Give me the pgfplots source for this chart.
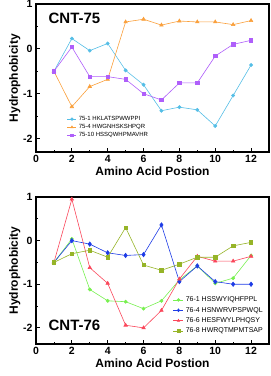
\documentclass[border=0pt]{standalone}
\usepackage{pgfplots}
\pgfplotsset{compat=1.18}
\usepackage{fontspec}
\setmainfont{Liberation Sans}
\definecolor{ccyan}{RGB}{85,190,230}
\definecolor{corange}{RGB}{250,160,60}
\definecolor{cpurple}{RGB}{175,95,250}
\definecolor{cgreen}{RGB}{120,240,80}
\definecolor{cblue}{RGB}{30,60,230}
\definecolor{cred}{RGB}{250,70,90}
\definecolor{colive}{RGB}{150,180,40}
\pgfplotsset{
  myaxis/.style={
    scale only axis,
    width=233pt,
    xmin=0, xmax=13,
    ymax=1,
    xtick={0,2,...,12},
    minor xtick={1,3,...,11},
    ytick={-2,-1,0,1},
    minor ytick={-1.5,-0.5,0.5},
    tick align=inside,
    xtick pos=bottom, ytick pos=left,
    major tick length=4pt, minor tick length=2pt,
    axis line style={line width=1.1pt},
    every tick/.style={black, line width=0.8pt},
    tick label style={font=\fontsize{10.5}{10.5}\selectfont\bfseries},
    /pgf/number format/assume math mode=true,
    xlabel={Amino Acid Postion},
    ylabel={Hydrophobicity},
    label style={font=\fontsize{12}{12}\selectfont\bfseries},
    xlabel style={yshift=3pt},
    ylabel style={yshift=-4pt},
    every axis plot/.append style={line width=0.6pt},
    legend cell align=left,
    legend style={draw=none, fill=none},
  }
}
\begin{document}
\begin{tikzpicture}
\useasboundingbox (0,0) rectangle (271pt,-376pt);
\begin{axis}[myaxis, at={(36pt,-4pt)}, anchor=north west, height=148pt, ymin=-2.3,
  legend style={at={(0.12,0.27)}, anchor=north west, font=\fontsize{6}{6}\selectfont, row sep=-1.5pt},
  legend image code/.code={\draw[#1] (0pt,0pt) -- (9pt,0pt); \draw[#1, mark size=1.3pt] plot coordinates {(4.5pt,0pt)};}]
\addplot[color=ccyan, mark=*, mark size=1.6pt] coordinates {
(1,-0.5)(2,0.23)(3,-0.04)(4,0.12)(5,-0.48)(6,-0.8)(7,-1.38)(8,-1.3)(9,-1.36)(10,-1.72)(11,-1.04)(12,-0.36)};
\addlegendentry{75-1 HKLATSPWWPPI}
\addplot[color=corange, mark=triangle*, mark size=2pt] coordinates {
(1,-0.5)(2,-1.29)(3,-0.84)(4,-0.68)(5,0.6)(6,0.66)(7,0.53)(8,0.62)(9,0.6)(10,0.6)(11,0.54)(12,0.63)};
\addlegendentry{75-4 HWGNHSKSHPQR}
\addplot[color=cpurple, mark=square*, mark size=1.7pt] coordinates {
(1,-0.5)(2,0.04)(3,-0.62)(4,-0.62)(5,-0.68)(6,-1.0)(7,-1.14)(8,-0.76)(9,-0.76)(10,-0.16)(11,0.1)(12,0.19)};
\addlegendentry{75-10 HSSQWHPMAVHR}
\node[font=\fontsize{15}{15}\selectfont\bfseries] at (rel axis cs:0.165,0.9) {CNT-75};
\end{axis}
\begin{axis}[myaxis, at={(36pt,-197pt)}, anchor=north west, height=147pt, ymin=-2.37,
  legend style={at={(0.575,0.35)}, anchor=north west, font=\fontsize{7}{7}\selectfont, row sep=0pt},
  legend image code/.code={\draw[#1] (0pt,0pt) -- (10pt,0pt); \draw[#1, mark size=1.4pt] plot coordinates {(5pt,0pt)};}]
\addplot[color=cgreen, mark=*, mark size=1.6pt] coordinates {
(1,-0.5)(2,0.04)(3,-1.12)(4,-1.38)(5,-1.4)(6,-1.56)(7,-1.38)(8,-0.9)(9,-0.58)(10,-0.98)(11,-0.86)(12,-0.34)};
\addlegendentry{76-1 HSSWYIQHFPPL}
\addplot[color=cblue, mark=diamond*, mark size=2.2pt] coordinates {
(1,-0.5)(2,0.0)(3,-0.08)(4,-0.28)(5,-0.34)(6,-0.32)(7,0.36)(8,-0.94)(9,-0.58)(10,-0.94)(11,-1.0)(12,-1.0)};
\addlegendentry{76-4 HSNWRVPSPWQL}
\addplot[color=cred, mark=triangle*, mark size=2pt] coordinates {
(1,-0.5)(2,0.95)(3,-0.62)(4,-0.98)(5,-1.94)(6,-2.0)(7,-1.6)(8,-0.88)(9,-0.36)(10,-0.47)(11,-0.47)(12,-0.36)};
\addlegendentry{76-6 HESFWYLPHQSY}
\addplot[color=colive, mark=square*, mark size=1.7pt] coordinates {
(1,-0.5)(2,-0.3)(3,-0.22)(4,-0.38)(5,0.3)(6,-0.56)(7,-0.68)(8,-0.54)(9,-0.38)(10,-0.38)(11,-0.12)(12,-0.04)};
\addlegendentry{76-8 HWRQTMPMTSAP}
\node[font=\fontsize{15}{15}\selectfont\bfseries] at (rel axis cs:0.165,0.13) {CNT-76};
\end{axis}
\end{tikzpicture}
\end{document}
